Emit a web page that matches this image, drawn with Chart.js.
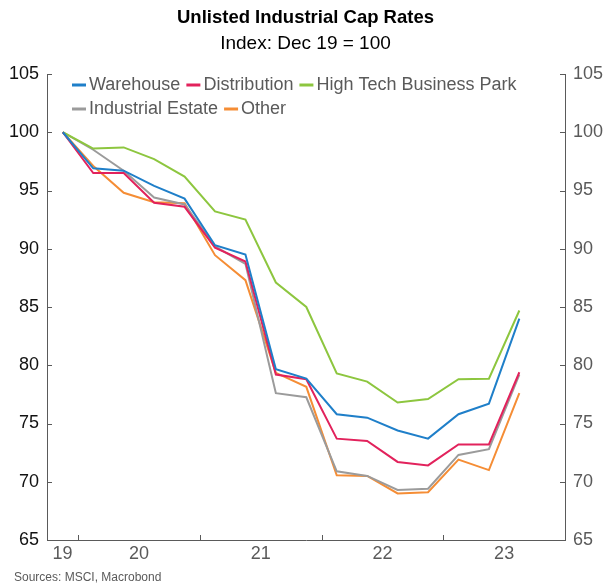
<!DOCTYPE html>
<html>
<head>
<meta charset="utf-8">
<title>Unlisted Industrial Cap Rates</title>
<script src="https://cdn.jsdelivr.net/npm/chart.js@4.4.1/dist/chart.umd.min.js"></script>
<style>
  html, body { margin: 0; padding: 0; background: #fff; }
  #wrap { width: 611px; height: 588px; }
</style>
</head>
<body>
<div id="wrap"><canvas id="capChart" width="611" height="588"></canvas></div>
<script>
// Unlisted industrial cap rates, quarterly, index Dec 19 = 100

const quarters = ['Dec-19', 'Mar-20', 'Jun-20', 'Sep-20', 'Dec-20', 'Mar-21', 'Jun-21', 'Sep-21',
                  'Dec-21', 'Mar-22', 'Jun-22', 'Sep-22', 'Dec-22', 'Mar-23', 'Jun-23', 'Sep-23'];

const warehouse    = [100, 96.9, 96.7, 95.4, 94.3, 90.3, 89.5, 79.65, 78.85, 75.8, 75.5, 74.4, 73.7, 75.8, 76.7, 84.0];
const distribution = [100, 96.5, 96.5, 93.95, 93.6, 90.1, 88.9, 79.2, 78.8, 73.7, 73.5, 71.7, 71.4, 73.2, 73.2, 79.4];
const highTech     = [100, 98.6, 98.7, 97.7, 96.2, 93.2, 92.5, 87.1, 85.0, 79.3, 78.6, 76.8, 77.1, 78.8, 78.85, 84.7];
const indEstate    = [100, 98.5, 96.7, 94.4, 93.8, 90.2, 88.7, 77.6, 77.25, 70.9, 70.5, 69.3, 69.4, 72.3, 72.8, 79.2];
const other        = [100, 97.1, 94.8, 94.0, 93.9, 89.45, 87.3, 79.35, 78.15, 70.55, 70.5, 69.0, 69.1, 71.9, 71.0, 77.6];

const yearLabels = ['19', '20', '21', '22', '23'];
const yTicks     = [65, 70, 75, 80, 85, 90, 95, 100, 105];

const X_MIN = 2019.745;
const X_MAX = 2024.0;

const COLORS = {
    blue:   '#1f7fc9',
    pink:   '#e2225c',
    green:  '#8dc63f',
    grey:   '#9b9b9b',
    orange: '#f58d35',
};

const FONT = "'Liberation Sans', Arial, sans-serif";
Chart.defaults.font.family = FONT;

// quarter end month -> middle of the quarter as decimal year
const monthIdx = { Mar: 3, Jun: 6, Sep: 9, Dec: 12 };
function quarterX(q) {
    const [m, y] = q.split('-');
    return 2000 + Number(y) + (monthIdx[m] - 1.5) / 12;
}
const toPoints = vals => vals.map((v, i) => ({ x: quarterX(quarters[i]), y: v }));

// label sits in the middle of the visible part of each year
function yearLabelPos(lbl) {
    const yr = 2000 + Number(lbl);
    return (Math.max(yr, X_MIN) + Math.min(yr + 1, X_MAX)) / 2;
}

function makeSet(label, data, color) {
    return {
        label,
        data: toPoints(data),
        borderColor: color,
        backgroundColor: color,
        borderWidth: 2,
        pointRadius: 0,
        tension: 0,
        yAxisID: 'y',
    };
}

// legend drawn inside the plot, two rows like the original
const insideLegend = {
    id: 'insideLegend',
    afterDatasetsDraw(chart) {
        const { ctx, chartArea } = chart;
        const rows = [[0, 1, 2], [3, 4]];
        ctx.save();
        ctx.font = '18px ' + FONT;
        ctx.textBaseline = 'middle';
        rows.forEach((row, r) => {
            let x = chartArea.left + 25;
            const y = chartArea.top + 11 + r * 24;
            row.forEach(i => {
                const ds = chart.data.datasets[i];
                ctx.strokeStyle = ds.borderColor;
                ctx.lineWidth = 3;
                ctx.beginPath();
                ctx.moveTo(x, y);
                ctx.lineTo(x + 14, y);
                ctx.stroke();
                x += 17;
                ctx.fillStyle = '#5a5a5a';
                ctx.fillText(ds.label, x, y);
                x += ctx.measureText(ds.label).width + 6;
            });
        });
        ctx.restore();
    }
};

// inward tick marks + source note
const axisExtras = {
    id: 'axisExtras',
    afterDraw(chart) {
        const { ctx, chartArea, scales } = chart;
        const { left, right, bottom } = chartArea;
        ctx.save();
        ctx.strokeStyle = '#5a5a5a';
        ctx.lineWidth = 1;
        ctx.beginPath();
        for (let yr = Math.ceil(X_MIN); yr < X_MAX; yr++) {
            const px = Math.round(scales.x.getPixelForValue(yr)) + 0.5;
            ctx.moveTo(px, bottom);
            ctx.lineTo(px, bottom - 5);
        }
        yTicks.forEach(v => {
            const py = Math.round(scales.y.getPixelForValue(v)) + 0.5;
            ctx.moveTo(left, py);
            ctx.lineTo(left + 5, py);
            ctx.moveTo(right, py);
            ctx.lineTo(right - 5, py);
        });
        ctx.stroke();

        ctx.fillStyle = '#5a5a5a';
        ctx.font = '12px ' + FONT;
        ctx.textBaseline = 'middle';
        ctx.fillText('Sources: MSCI, Macrobond', 14, 578);
        ctx.restore();
    }
};

const yAxisBase = {
    min: 65,
    max: 105,
    grid: { display: false, drawTicks: false },
    border: { display: true, color: '#5a5a5a', width: 1 },
    afterBuildTicks: s => { s.ticks = yTicks.map(v => ({ value: v })); },
};

new Chart(document.getElementById('capChart'), {
    type: 'line',
    data: {
        datasets: [
            makeSet('Warehouse', warehouse, COLORS.blue),
            makeSet('Distribution', distribution, COLORS.pink),
            makeSet('High Tech Business Park', highTech, COLORS.green),
            makeSet('Industrial Estate', indEstate, COLORS.grey),
            makeSet('Other', other, COLORS.orange),
        ]
    },
    options: {
        responsive: false,
        animation: false,
        layout: { padding: { left: 0, right: 0, top: 0, bottom: 24 } },
        plugins: {
            legend: { display: false },
            tooltip: { enabled: false },
            title: {
                display: true,
                text: 'Unlisted Industrial Cap Rates',
                color: '#000',
                font: { size: 18.5, weight: 'bold' },
                padding: { top: 7, bottom: 3 },
            },
            subtitle: {
                display: true,
                text: 'Index: Dec 19 = 100',
                color: '#000',
                font: { size: 19 },
                padding: { top: 0, bottom: 19 },
            },
        },
        scales: {
            x: {
                type: 'linear',
                min: X_MIN,
                max: X_MAX,
                grid: { display: false, drawTicks: false },
                border: { display: true, color: '#5a5a5a', width: 1 },
                afterBuildTicks: s => { s.ticks = yearLabels.map(l => ({ value: yearLabelPos(l) })); },
                ticks: {
                    color: '#5a5a5a',
                    font: { size: 18 },
                    padding: 3,
                    autoSkip: false,
                    maxRotation: 0,
                    callback: (v, i) => yearLabels[i],
                },
                afterFit: s => { s.height = 24; },
            },
            y: {
                ...yAxisBase,
                position: 'left',
                ticks: { color: '#111', font: { size: 18 }, padding: 8 },
                afterFit: s => { s.width = 47; },
            },
            y2: {
                ...yAxisBase,
                position: 'right',
                ticks: { color: '#5a5a5a', font: { size: 18 }, padding: 8 },
                afterFit: s => { s.width = 46; },
            },
        }
    },
    plugins: [insideLegend, axisExtras]
});
</script>
</body>
</html>
